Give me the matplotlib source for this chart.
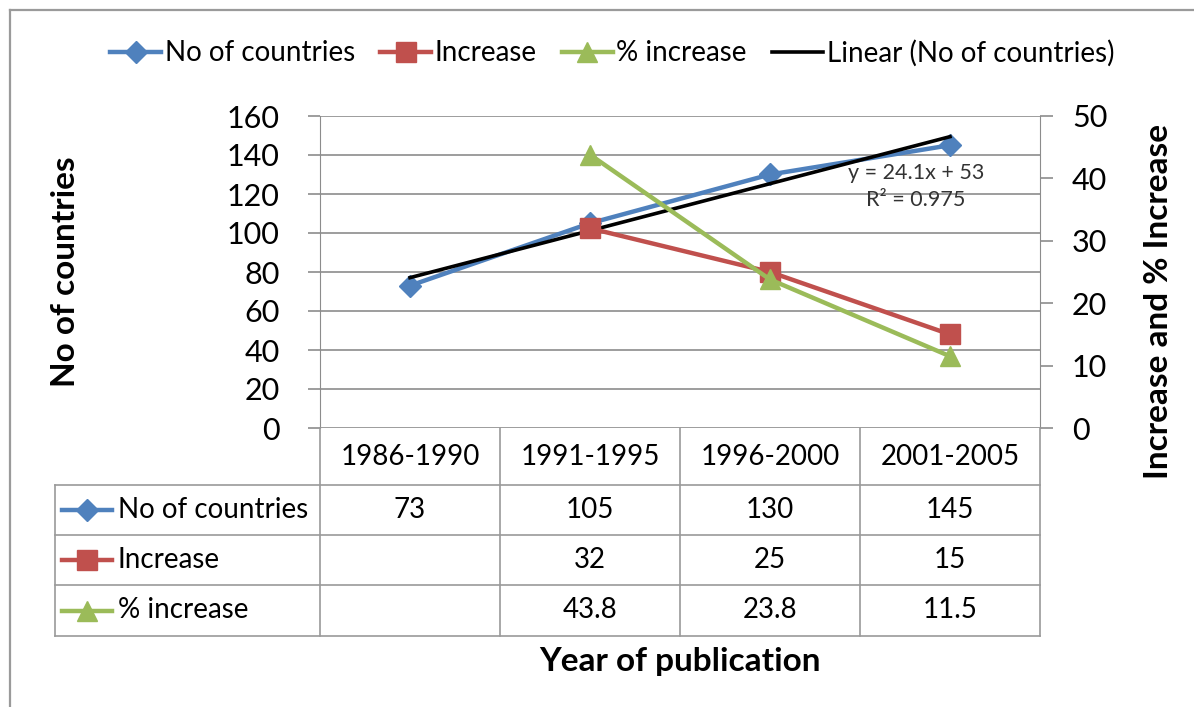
import numpy as np
import matplotlib
matplotlib.use("Agg")
import matplotlib.pyplot as plt
from matplotlib.lines import Line2D

# data
periods = ["1986-1990", "1991-1995", "1996-2000", "2001-2005"]
countries = [73, 105, 130, 145]
increase = [None, 32, 25, 15]
pct_increase = [None, 43.8, 23.8, 11.5]

row_names = ["No of countries", "Increase", "% increase"]
colors = ["#4F81BD", "#C0504D", "#9BBB59"]
markers = ["D", "s", "^"]
msizes = [11, 14, 14]

W, H = 1194, 707
plt.rcParams['font.family'] = ['Lato', 'DejaVu Sans']
fig = plt.figure(figsize=(W / 100, H / 100), dpi=100)

def fx(px):
    return px / W

def fy(py):
    return 1 - py / H

# outer frame (top and left edge only visible)
fig.add_artist(Line2D([fx(10), fx(10)], [fy(10), 0], color="#9a9a9a", lw=1.6))
fig.add_artist(Line2D([fx(10), 1], [fy(10), fy(10)], color="#9a9a9a", lw=1.6))

# plot area
left, right, top, bottom = 320, 1040, 116, 428
ax = fig.add_axes([fx(left), fy(bottom), fx(right - left), (bottom - top) / H])
ax2 = ax.twinx()

x = np.arange(len(periods))
grid_c = "#8c8c8c"

ax.set_xlim(-0.5, len(periods) - 0.5)
ax.set_ylim(0, 160)
ax.set_yticks(np.arange(0, 161, 20))
ax2.set_ylim(0, 50)
ax2.set_yticks(np.arange(0, 51, 10))
ax.yaxis.grid(True, color=grid_c, lw=1.2)
ax.set_axisbelow(True)
ax.set_xticks([])
for a in (ax, ax2):
    for s in a.spines.values():
        s.set_visible(False)
    a.tick_params(axis="y", length=9, width=1.2, color=grid_c, labelsize=22, pad=14)
ax.spines["left"].set_visible(True)
ax.spines["left"].set_color(grid_c)
ax.spines["left"].set_bounds(0, 160)
ax2.spines["right"].set_visible(True)
ax2.spines["right"].set_color(grid_c)
ax.tick_params(axis="y", pad=20)

# series
ax.plot(x, countries, color=colors[0], lw=3.2, marker=markers[0], ms=msizes[0],
        label=row_names[0], zorder=3)
xi = [i for i, v in enumerate(increase) if v is not None]
ax2.plot(xi, [increase[i] for i in xi], color=colors[1], lw=3.2, marker=markers[1],
         ms=msizes[1], label=row_names[1], zorder=3)
xp = [i for i, v in enumerate(pct_increase) if v is not None]
ax2.plot(xp, [pct_increase[i] for i in xp], color=colors[2], lw=3.2, marker=markers[2],
         ms=msizes[2], label=row_names[2], zorder=3)

# linear trendline (excel x = 1..n)
xe = x + 1
slope, icpt = np.polyfit(xe, countries, 1)
fit = slope * xe + icpt
r2 = 1 - np.sum((np.array(countries) - fit) ** 2) / np.sum((np.array(countries) - np.mean(countries)) ** 2)
r2 = np.floor(r2 * 1000) / 1000  # excel shows it truncated
ax.plot(x, fit, color="black", lw=2.6, zorder=4, label="Linear (No of countries)")
ax.text(2.81, 131, "y = %.1fx + %d" % (slope, round(icpt)), fontsize=15.5, ha="center",
        va="center", color="#333333", zorder=5)
ax.text(2.81, 117, "R² = %.3f" % r2, fontsize=15.5, ha="center", va="center",
        color="#333333", zorder=5)

ax.set_ylabel("No of countries", fontsize=24, fontweight="bold")
ax.yaxis.set_label_coords((80 - left) / (right - left), 0.5)
ax2.set_ylabel("Increase and % Increase", fontsize=24, fontweight="bold", rotation=90)
ax2.yaxis.set_label_coords((1144 - left) / (right - left), 0.404)

# legend
handles = [Line2D([], [], color=colors[0], lw=3.2, marker=markers[0], ms=msizes[0]),
           Line2D([], [], color=colors[1], lw=3.2, marker=markers[1], ms=msizes[1]),
           Line2D([], [], color=colors[2], lw=3.2, marker=markers[2], ms=msizes[2]),
           Line2D([], [], color="black", lw=2.6)]
labels = row_names + ["Linear (No of countries)"]
fig.legend(handles, labels, loc="center", bbox_to_anchor=(fx(612), fy(53)), ncol=4,
           frameon=False, fontsize=20, handlelength=1.85, handletextpad=0.12,
           columnspacing=0.9)

# data table below the plot
tleft, tright, ttop, tbottom = 55, 1040, 428, 636
tax = fig.add_axes([fx(tleft), fy(tbottom), fx(tright - tleft), (tbottom - ttop) / H])
cell_w = (right - left) / len(periods)
lab_w = (left - tleft) / cell_w
tax.set_xlim(-0.5 - lab_w, len(periods) - 0.5)
tax.set_ylim(tbottom - ttop, 0)
tax.axis("off")
row_edges = [0, 57, 107, 157, 208]
tc = "#9a9a9a"
# vertical lines
for k in range(len(periods) + 1):
    tax.plot([k - 0.5, k - 0.5], [0, row_edges[-1]], color=tc, lw=1.2, clip_on=False)
tax.plot([-0.5 - lab_w, -0.5 - lab_w], [row_edges[1], row_edges[-1]], color=tc, lw=1.2,
         clip_on=False)
# horizontal lines
for e in row_edges[1:]:
    tax.plot([-0.5 - lab_w, len(periods) - 0.5], [e, e], color=tc, lw=1.2, clip_on=False)

for i, p in enumerate(periods):
    tax.text(i, 29, p, ha="center", va="center", fontsize=20)

table_rows = [countries, increase, pct_increase]
for r, (name, vals) in enumerate(zip(row_names, table_rows)):
    yc = (row_edges[r + 1] + row_edges[r + 2]) / 2
    x0 = -0.5 - lab_w + 7 / cell_w
    tax.plot([x0, x0 + 50 / cell_w], [yc, yc], color=colors[r], lw=3.2, clip_on=False)
    tax.plot([x0 + 25 / cell_w], [yc], color=colors[r], marker=markers[r],
             ms=msizes[r], clip_on=False)
    tax.text(x0 + 56 / cell_w, yc, name, ha="left", va="center", fontsize=20)
    for i, v in enumerate(vals):
        if v is not None:
            tax.text(i, yc, str(v), ha="center", va="center", fontsize=20)

fig.text(fx(680), fy(662), "Year of publication", ha="center", va="center",
         fontsize=24, fontweight="bold")

fig.savefig("out.png", dpi=100)
